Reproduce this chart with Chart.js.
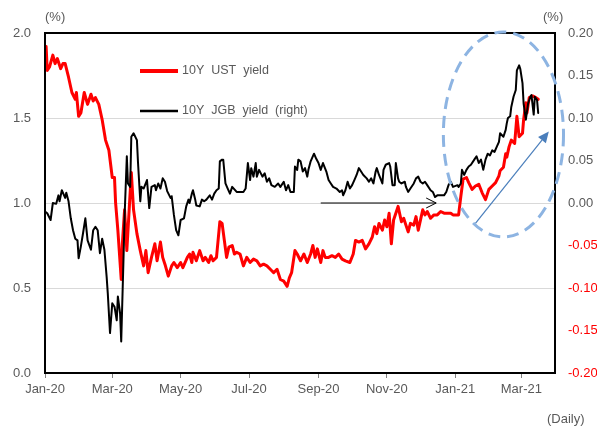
<!DOCTYPE html>
<html><head><meta charset="utf-8">
<script src="https://cdn.jsdelivr.net/npm/chart.js@4/dist/chart.umd.min.js"></script>
<style>html,body{margin:0;padding:0;background:#fff;}#wrap{width:597px;height:428px;position:relative;}</style>
</head><body><div id="wrap"><canvas id="c" width="597" height="428"></canvas></div>
<script>
// x values: days since 2020-01-01
const tickDays = [0, 60, 121, 182, 244, 305, 366, 425];
const tickLabels = ["Jan-20","Mar-20","May-20","Jul-20","Sep-20","Nov-20","Jan-21","Mar-21"];

const ustDays = [
 1,2,4,7,9,11,14,16,18,21,
 24,27,28,30,32,35,38,41,43,45,
 48,51,54,57,60,62,63,65,68,69,
 71,73,77,79,82,85,88,90,92,95,
 98,100,103,105,107,110,113,115,118,121,
 123,127,129,131,132,135,138,141,143,146,
 148,150,153,156,158,160,162,164,167,169,
 171,174,177,180,183,186,189,192,195,198,
 201,204,207,210,213,216,218,220,223,225,
 228,231,234,237,239,241,243,246,248,250,
 253,256,259,262,265,268,272,275,277,280,
 283,286,289,292,294,296,298,301,303,305,
 307,309,311,313,315,318,320,322,324,326,
 329,331,333,336,337,339,341,344,347,350,
 353,356,359,362,364,369,371,373,376,378,
 381,384,387,390,393,396,399,402,405,406,
 409,411,412,414,416,419,421,423,426,427,
 429,430,432,435,438,440];
const ustYield = [
 1.92,1.78,1.80,1.87,1.82,1.85,1.79,1.82,1.82,1.74,
 1.65,1.61,1.65,1.51,1.53,1.65,1.58,1.64,1.60,1.62,
 1.58,1.49,1.37,1.31,1.15,1.15,1.00,0.84,0.55,0.76,
 0.96,0.72,1.18,0.96,0.82,0.72,0.63,0.72,0.59,0.68,
 0.76,0.66,0.77,0.68,0.64,0.57,0.63,0.65,0.62,0.65,
 0.62,0.68,0.70,0.65,0.71,0.66,0.72,0.66,0.68,0.65,
 0.69,0.66,0.68,0.89,0.88,0.78,0.68,0.74,0.75,0.70,
 0.71,0.70,0.63,0.68,0.65,0.67,0.66,0.63,0.64,0.63,
 0.61,0.59,0.61,0.55,0.54,0.51,0.56,0.59,0.72,0.70,
 0.66,0.70,0.65,0.70,0.75,0.68,0.73,0.65,0.72,0.68,
 0.68,0.69,0.68,0.70,0.67,0.66,0.65,0.70,0.78,0.77,
 0.78,0.73,0.76,0.80,0.86,0.82,0.88,0.84,0.90,0.86,
 0.94,0.76,0.90,0.94,0.98,0.89,0.91,0.87,0.83,0.88,
 0.87,0.92,0.84,0.93,0.96,0.93,0.95,0.91,0.93,0.93,
 0.95,0.94,0.94,0.94,0.93,0.93,1.04,1.14,1.15,1.12,
 1.08,1.10,1.11,1.06,1.02,1.08,1.10,1.12,1.16,1.19,
 1.21,1.29,1.27,1.33,1.37,1.35,1.51,1.39,1.41,1.49,
 1.59,1.53,1.62,1.63,1.62,1.61];

const jgbDays = [
 0,2,5,7,10,12,13,15,18,19,
 21,23,25,27,29,30,32,34,36,38,
 41,43,45,47,49,51,53,55,56,58,
 60,62,64,65,67,68,70,71,73,74,
 76,77,79,82,83,85,86,88,91,93,
 95,98,99,101,103,105,107,109,112,113,
 115,117,119,121,124,126,128,129,131,132,
 134,135,138,140,142,144,147,149,151,153,
 155,156,158,159,161,163,165,167,169,171,
 174,177,179,181,183,184,186,188,189,191,
 194,196,198,200,202,205,208,210,213,215,
 217,219,222,223,225,226,228,230,232,234,
 235,237,240,242,244,246,248,251,253,255,
 257,260,263,265,266,268,270,272,274,276,
 278,280,282,284,287,289,291,293,295,296,
 298,301,302,304,307,308,310,312,313,315,
 316,318,321,322,324,326,329,331,333,335,
 337,339,341,344,346,348,350,353,356,358,
 360,362,364,368,369,371,372,374,376,378,
 380,383,385,387,389,391,393,395,397,399,
 401,403,405,406,409,411,412,413,415,416,
 418,420,421,423,424,426,427,429,431,433,
 434,436,437,439,440];
const jgbYield = [
 -0.010,-0.012,-0.020,0.000,-0.001,0.009,0.002,0.015,0.006,0.012,
 0.002,-0.018,-0.032,-0.042,-0.044,-0.065,-0.051,-0.035,-0.018,-0.044,
 -0.055,-0.032,-0.028,-0.032,-0.059,-0.042,-0.055,-0.087,-0.106,-0.153,
 -0.118,-0.122,-0.138,-0.110,-0.130,-0.163,-0.067,-0.016,0.055,0.023,
 0.019,0.078,0.082,0.074,0.047,0.002,0.019,0.017,0.027,-0.006,
 0.019,0.021,0.015,0.023,0.017,0.029,0.025,0.014,0.006,0.008,
 -0.014,-0.032,-0.038,-0.020,-0.018,-0.004,0.004,0.000,0.011,0.015,
 0.004,-0.003,-0.004,0.004,0.002,0.004,0.009,0.004,0.011,0.015,
 0.017,0.049,0.051,0.051,0.023,0.017,0.011,0.019,0.016,0.013,
 0.013,0.013,0.017,0.047,0.027,0.041,0.031,0.047,0.031,0.039,
 0.031,0.035,0.025,0.029,0.021,0.019,0.023,0.019,0.025,0.015,
 0.021,0.013,0.013,0.043,0.039,0.051,0.049,0.037,0.041,0.031,
 0.039,0.049,0.058,0.052,0.047,0.039,0.047,0.037,0.027,0.023,
 0.019,0.017,0.013,0.015,0.009,0.015,0.025,0.017,0.021,0.027,
 0.033,0.041,0.037,0.033,0.029,0.025,0.029,0.023,0.037,0.041,
 0.033,0.023,0.039,0.045,0.047,0.043,0.021,0.021,0.047,0.029,
 0.025,0.023,0.025,0.019,0.013,0.017,0.023,0.029,0.031,0.025,
 0.023,0.025,0.021,0.015,0.013,0.007,0.009,0.009,0.009,0.013,
 0.021,0.025,0.019,0.021,0.019,0.023,0.039,0.033,0.039,0.043,
 0.045,0.051,0.055,0.047,0.051,0.039,0.051,0.058,0.056,0.062,
 0.060,0.066,0.072,0.082,0.078,0.086,0.094,0.100,0.102,0.113,
 0.125,0.133,0.156,0.162,0.158,0.141,0.117,0.098,0.117,0.125,
 0.127,0.104,0.125,0.121,0.106];

const seriesNames = ["10Y  UST  yield", "10Y  JGB  yield  (right)"];

const toPts = (xs, ys) => xs.map((d, i) => ({x: d, y: ys[i]}));

Chart.defaults.font.family = "'Liberation Sans', Arial, sans-serif";
Chart.defaults.font.size = 13;
Chart.defaults.color = '#595959';

const decor = {
  id: 'decor',
  afterDatasetsDraw(chart) {
    const {ctx, chartArea: a, scales: {x, y}} = chart;
    ctx.save();
    ctx.strokeStyle = '#000'; ctx.lineWidth = 2;
    ctx.strokeRect(a.left, a.top, a.right - a.left, a.bottom - a.top);

    // legend
    ctx.lineWidth = 4; ctx.strokeStyle = '#ff0000';
    ctx.beginPath(); ctx.moveTo(140, 71); ctx.lineTo(178, 71); ctx.stroke();
    ctx.lineWidth = 2.5; ctx.strokeStyle = '#000';
    ctx.beginPath(); ctx.moveTo(140, 111); ctx.lineTo(178, 111); ctx.stroke();
    ctx.fillStyle = '#595959';
    ctx.font = "12.5px 'Liberation Sans', Arial, sans-serif";
    ctx.textBaseline = 'middle'; ctx.textAlign = 'left';
    ctx.fillText(seriesNames[0], 182, 71);
    ctx.fillText(seriesNames[1], 182, 111);

    // horizontal black arrow
    const hx0 = x.getPixelForValue(246), hx1 = x.getPixelForValue(349), hy = y.getPixelForValue(1.0);
    ctx.strokeStyle = '#000'; ctx.lineWidth = 1;
    ctx.beginPath(); ctx.moveTo(hx0, hy); ctx.lineTo(hx1, hy); ctx.stroke();
    ctx.beginPath(); ctx.moveTo(hx1 - 10, hy - 5); ctx.lineTo(hx1, hy); ctx.lineTo(hx1 - 10, hy + 5); ctx.stroke();

    // blue arrow
    const bx0 = x.getPixelForValue(384), by0 = y.getPixelForValue(0.88);
    const bx1 = x.getPixelForValue(449.5), by1 = y.getPixelForValue(1.42);
    const ang = Math.atan2(by1 - by0, bx1 - bx0);
    ctx.strokeStyle = '#4a7ebb'; ctx.fillStyle = '#4a7ebb'; ctx.lineWidth = 1.2;
    const L = 11, W = 5;
    const baseX = bx1 - L * Math.cos(ang), baseY = by1 - L * Math.sin(ang);
    ctx.beginPath(); ctx.moveTo(bx0, by0); ctx.lineTo(baseX, baseY); ctx.stroke();
    ctx.beginPath();
    ctx.moveTo(bx1, by1);
    ctx.lineTo(baseX + W * Math.sin(ang), baseY - W * Math.cos(ang));
    ctx.lineTo(baseX - W * Math.sin(ang), baseY + W * Math.cos(ang));
    ctx.closePath(); ctx.fill();

    // dashed ellipse
    const ex = x.getPixelForValue(409), ey = y.getPixelForValue(1.403);
    const rx = x.getPixelForValue(409 + 53.6) - ex;
    const ry = ey - y.getPixelForValue(1.403 + 0.603);
    ctx.strokeStyle = '#8db4e2'; ctx.lineWidth = 3; ctx.setLineDash([12, 7]);
    ctx.beginPath(); ctx.ellipse(ex, ey, rx, ry, 0, 0, Math.PI * 2); ctx.stroke();
    ctx.setLineDash([]);

    // axis unit titles
    ctx.fillStyle = '#595959';
    ctx.font = "13px 'Liberation Sans', Arial, sans-serif";
    ctx.textAlign = 'left'; ctx.textBaseline = 'middle';
    ctx.fillText('(%)', 45, 17);
    ctx.fillText('(%)', 543, 17);
    ctx.fillText('(Daily)', 547, 419);
    ctx.restore();
  }
};

new Chart(document.getElementById('c'), {
  type: 'line',
  data: {
    datasets: [
      {label: seriesNames[0], data: toPts(ustDays, ustYield), yAxisID: 'y',
       borderColor: '#ff0000', borderWidth: 3, pointRadius: 0, tension: 0, order: 2,
       borderJoinStyle: 'round', borderCapStyle: 'round'},
      {label: seriesNames[1], data: toPts(jgbDays, jgbYield), yAxisID: 'y1',
       borderColor: '#000000', borderWidth: 2, pointRadius: 0, tension: 0, order: 1,
       borderJoinStyle: 'round', borderCapStyle: 'round'}
    ]
  },
  options: {
    responsive: false, animation: false, devicePixelRatio: 1,
    layout: {padding: {top: 33, left: 0, right: 0, bottom: 0}},
    plugins: {legend: {display: false}, tooltip: {enabled: false}},
    scales: {
      x: {
        type: 'linear', min: 0, max: 455, position: 'bottom',
        afterBuildTicks: s => { s.ticks = tickDays.map(v => ({value: v})); },
        afterFit: s => { s.height = 55; },
        ticks: {autoSkip: false, maxRotation: 0, padding: 4,
                callback: v => tickLabels[tickDays.indexOf(v)]},
        grid: {drawOnChartArea: false, drawTicks: true, tickLength: 5, color: '#7f7f7f'},
        border: {color: '#000', width: 2}
      },
      y: {
        position: 'left', min: 0, max: 2,
        afterFit: s => { s.width = 45; },
        ticks: {stepSize: 0.5, padding: 14, callback: v => Number(v).toFixed(1)},
        grid: {color: '#d9d9d9', drawTicks: false, lineWidth: 1},
        border: {color: '#000', width: 2}
      },
      y1: {
        position: 'right', min: -0.2, max: 0.2,
        afterFit: s => { s.width = 42; },
        ticks: {stepSize: 0.05, padding: 13, callback: v => Number(v).toFixed(2),
                color: c => (c.tick && c.tick.value < -1e-9) ? '#ff0000' : '#595959'},
        grid: {drawOnChartArea: false, drawTicks: false},
        border: {color: '#000', width: 2}
      }
    }
  },
  plugins: [decor]
});
</script></body></html>
